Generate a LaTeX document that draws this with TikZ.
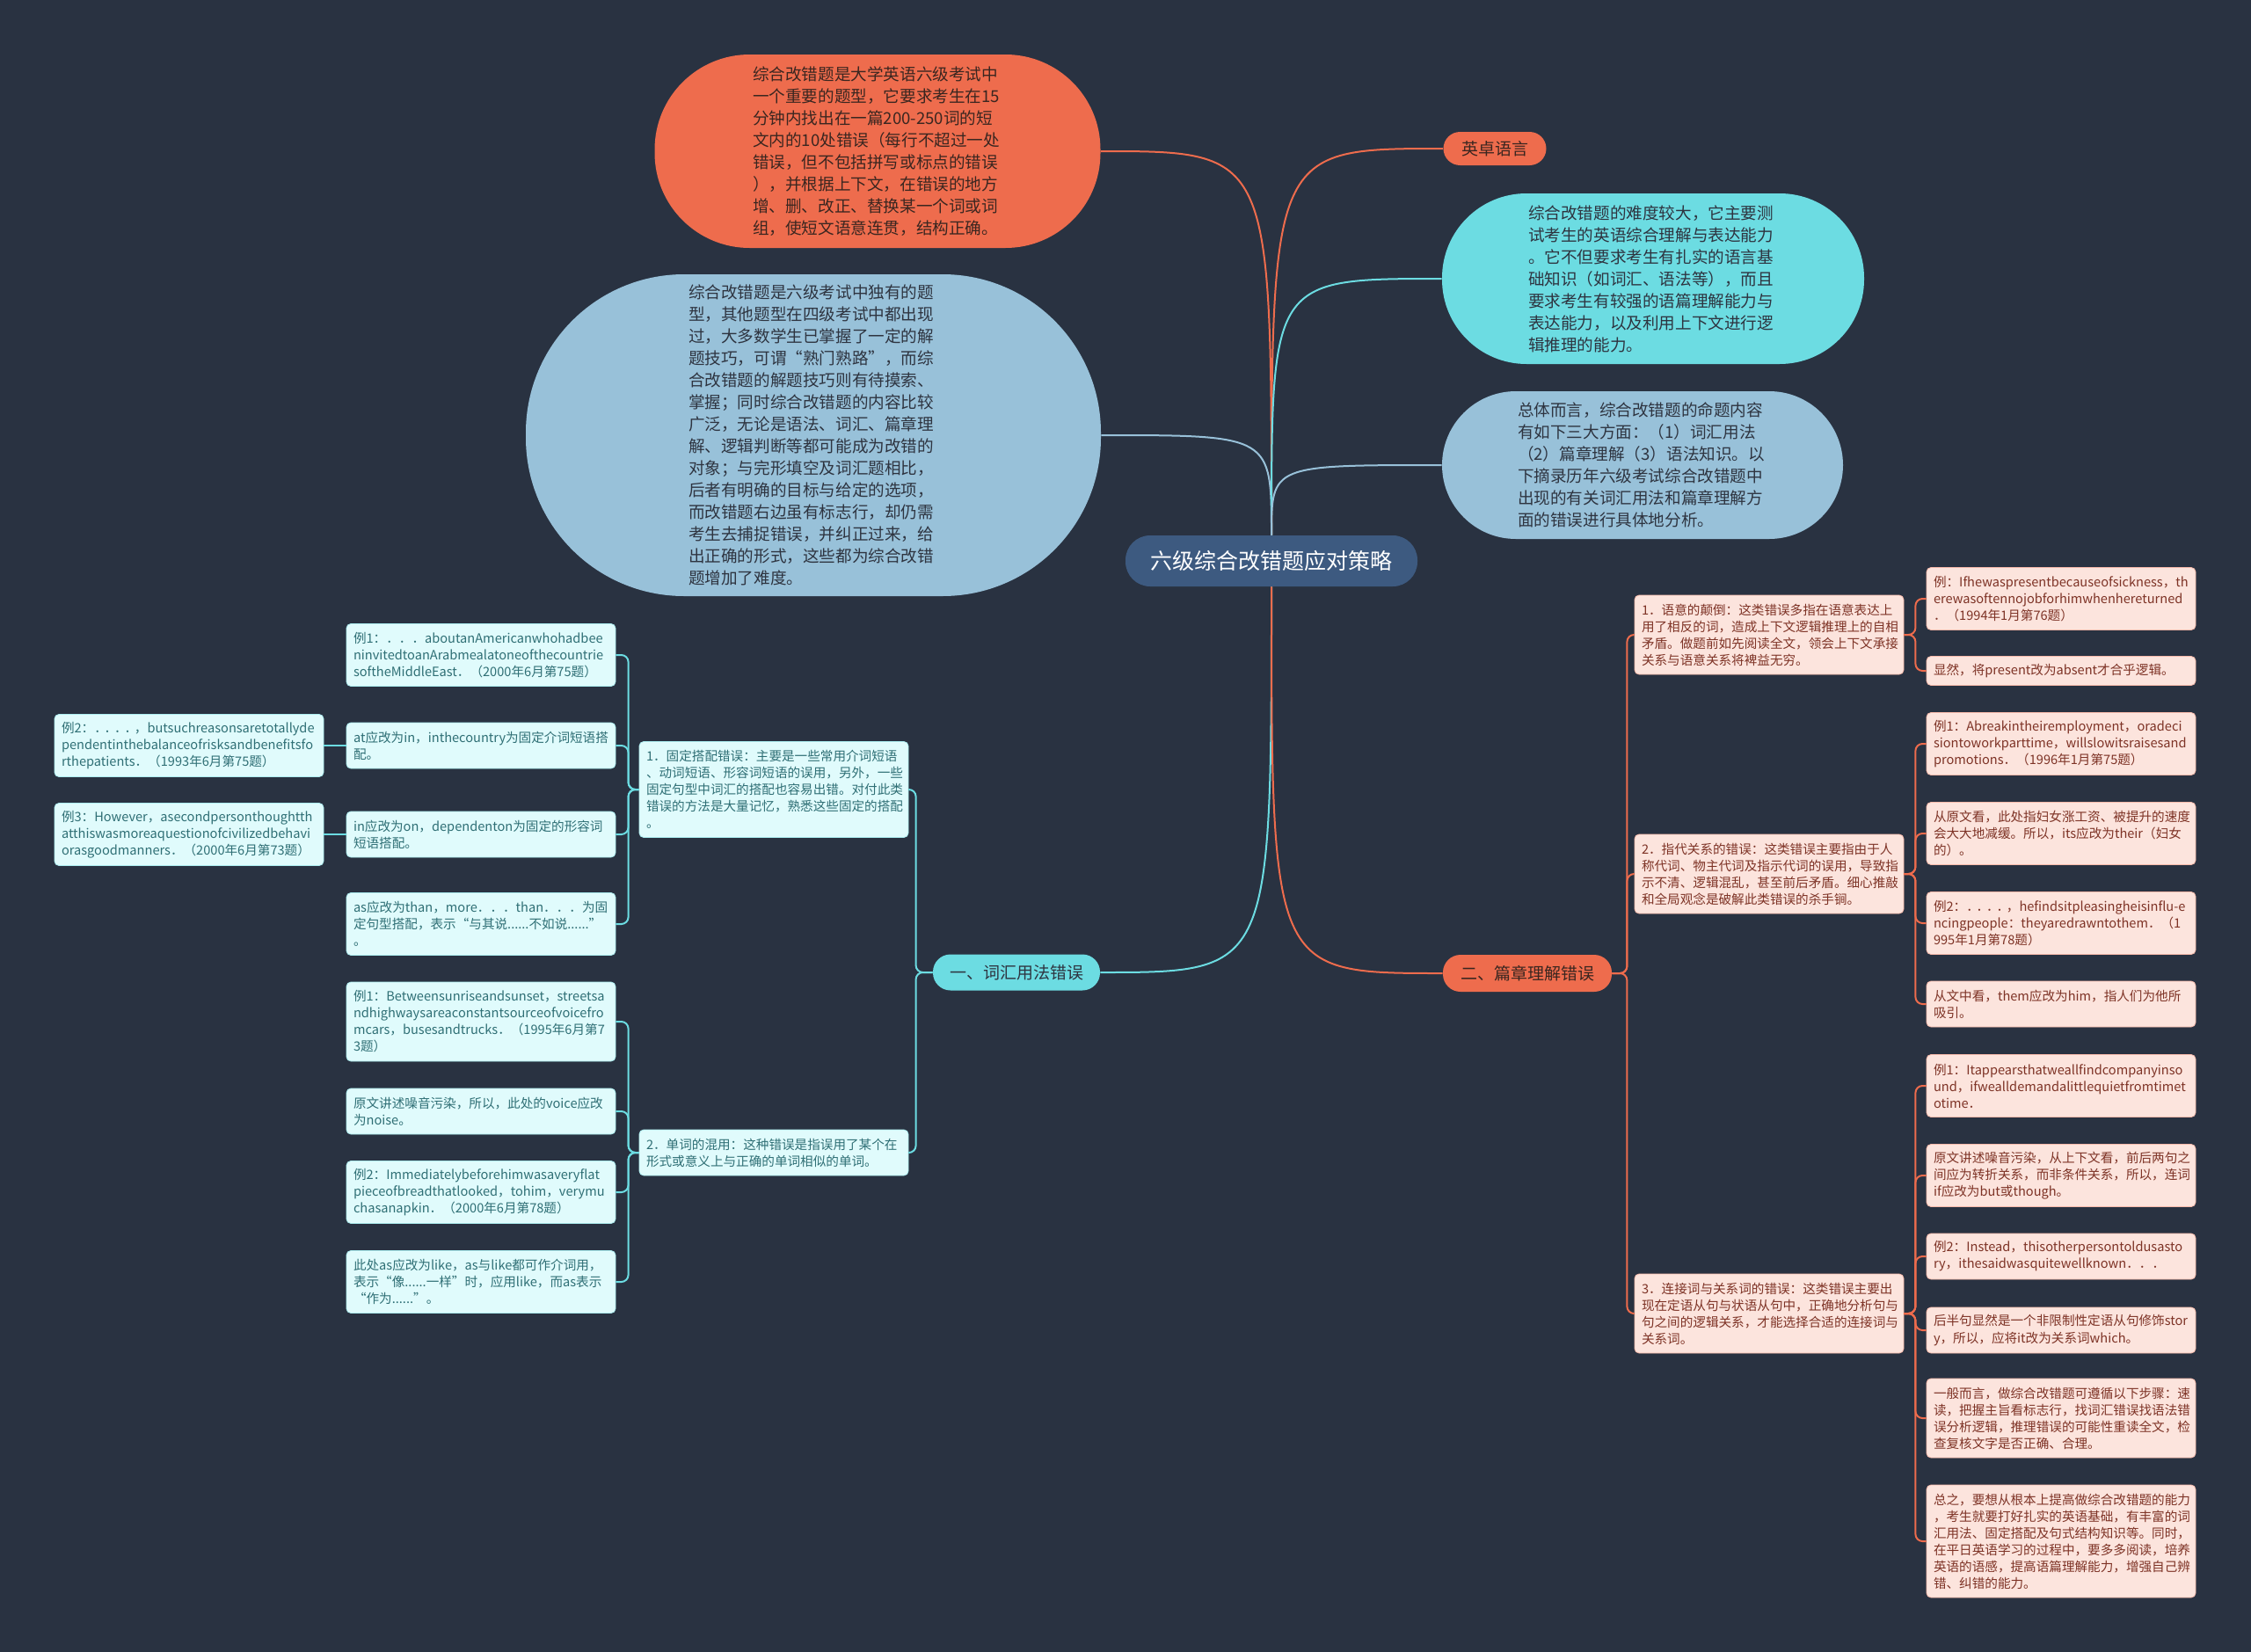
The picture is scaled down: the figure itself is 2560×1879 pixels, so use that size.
\documentclass[tikz,border=0pt]{standalone}
\usepackage{fontspec}
\setmainfont{Noto Sans CJK SC}
\usepackage{tikz}
\usetikzlibrary{calc}
\usepackage{xcolor}
\hyphenpenalty=10000
\exhyphenpenalty=10000
\newcommand{\tightdot}{．\kern-1.6pt}

\definecolor{bg}{HTML}{293241}
\definecolor{navy}{HTML}{3D5A80}
\definecolor{coral}{HTML}{EE6C4D}
\definecolor{aqua}{HTML}{6CDCE2}
\definecolor{sky}{HTML}{98C1D9}
\definecolor{ice}{HTML}{E0FBFC}
\definecolor{blush}{HTML}{FCE4DD}
\definecolor{tealtxt}{HTML}{2F6F75}
\definecolor{rusttxt}{HTML}{7E3326}
\definecolor{inktxt}{HTML}{2E3440}
\definecolor{browntxt}{HTML}{3A2620}

\tikzset{
  bubble/.style={align=left, inner sep=0pt, text width=142pt, font=\fontsize{9.3}{12.5}\selectfont},
  tag/.style={inner sep=0pt, font=\fontsize{9.5}{12}\selectfont},
  leaf/.style={align=left, text width=145pt, inner xsep=4pt, inner ysep=0pt, rounded corners=2.5pt,
    line width=0.4pt, font=\fontsize{7.3}{9.5}\selectfont, minimum height=9.5pt*#1+7pt},
  leafL/.style={leaf=#1, fill=ice, draw=aqua!45!ice, text=tealtxt},
  leafR/.style={leaf=#1, fill=blush, draw=coral!35!blush, text=rusttxt},
  linkL/.style={aqua, line width=1pt, rounded corners=4pt},
  linkR/.style={coral, line width=1pt, rounded corners=4pt},
  trunk/.style={line width=1pt},
}

\begin{document}
\begin{tikzpicture}[x=0.5pt, y=-0.5pt]
    \useasboundingbox (0,0) rectangle (2560,1879);
    \fill[bg] (0,0) rectangle (2560,1879);

    \node[fill=navy, text=white, rounded corners=14pt, minimum width=166pt, minimum height=29pt,
      inner sep=0pt, font=\fontsize{12.5}{15}\selectfont] (root) at (1446,638) {六级综合改错题应对策略};

    % upper bubbles
    \node[bubble, fill=coral, text=browntxt, rounded corners=54pt, minimum width=253.5pt, minimum height=110pt] (intro) at (998,172)
      {综合改错题是大学英语六级考试中\\一个重要的题型，它要求考生在15\\分钟内找出在一篇200-250词的短\\文内的10处错误（每行不超过一处\\错误，但不包括拼写或标点的错误\\），并根据上下文，在错误的地方\\增、删、改正、替换某一个词或词\\组，使短文语意连贯，结构正确。};
    \node[bubble, fill=sky, text=inktxt, rounded corners=90pt, minimum width=327pt, minimum height=183pt] (unique) at (925,495)
      {综合改错题是六级考试中独有的题\\型，其他题型在四级考试中都出现\\过，大多数学生已掌握了一定的解\\题技巧，可谓“熟门熟路”，而综\\合改错题的解题技巧则有待摸索、\\掌握；同时综合改错题的内容比较\\广泛，无论是语法、词汇、篇章理\\解、逻辑判断等都可能成为改错的\\对象；与完形填空及词汇题相比，\\后者有明确的目标与给定的选项，\\而改错题右边虽有标志行，却仍需\\考生去捕捉错误，并纠正过来，给\\出正确的形式，这些都为综合改错\\题增加了难度。};
    \node[tag, fill=coral, text=browntxt, rounded corners=9.5pt, minimum width=58.5pt, minimum height=19pt] (brand) at (1700,169) {英卓语言};
    \node[bubble, fill=aqua, text=inktxt, rounded corners=48pt, minimum width=240pt, minimum height=97pt] (hard) at (1880,317)
      {综合改错题的难度较大，它主要测\\试考生的英语综合理解与表达能力\\。它不但要求考生有扎实的语言基\\础知识（如词汇、语法等），而且\\要求考生有较强的语篇理解能力与\\表达能力，以及利用上下文进行逻\\辑推理的能力。};
    \node[bubble, fill=sky, text=inktxt, rounded corners=42pt, minimum width=228pt, minimum height=84pt] (scope) at (1868,529)
      {总体而言，综合改错题的命题内容\\有如下三大方面：（1）词汇用法\\（2）篇章理解（3）语法知识。以\\下摘录历年六级考试综合改错题中\\出现的有关词汇用法和篇章理解方\\面的错误进行具体地分析。};

    % branches
    \node[tag, fill=aqua, text=inktxt, rounded corners=10pt, minimum width=95pt, minimum height=20.5pt] (vocab) at (1156,1106) {一、词汇用法错误};
    \node[tag, fill=coral, text=browntxt, rounded corners=10pt, minimum width=96pt, minimum height=21pt] (discourse) at (1737,1107) {二、篇章理解错误};

    \draw[trunk, coral] (root.north) .. controls (root.north |- intro.east) .. (intro.east);
    \draw[trunk, sky] (root.north) .. controls (root.north |- unique.east) .. (unique.east);
    \draw[trunk, coral] (root.north) .. controls (root.north |- brand.west) .. (brand.west);
    \draw[trunk, aqua] (root.north) .. controls (root.north |- hard.west) .. (hard.west);
    \draw[trunk, sky] (root.north) .. controls (root.north |- scope.west) .. (scope.west);
    \draw[trunk, aqua] (root.south) .. controls (root.south |- vocab.east) .. (vocab.east);
    \draw[trunk, coral] (root.south) .. controls (root.south |- discourse.west) .. (discourse.west);

    % left side
    \node[leafL=5] (fix) at (880,898)
      {1．固定搭配错误：主要是一些常用介词短语\\、动词短语、形容词短语的误用，另外，一些\\固定句型中词汇的搭配也容易出错。对付此类\\错误的方法是大量记忆，熟悉这些固定的搭配\\。};
    \node[leafL=2] (mix) at (880,1311)
      {2．单词的混用：这种错误是指误用了某个在\\形式或意义上与正确的单词相似的单词。};

    \node[leafL=3] (fix1) at (547,745)
      {例1：．．．aboutanAmericanwhohadbee\\ninvitedtoanArabmealatoneofthecountrie\\softheMiddleEast．（2000年6月第75题）};
    \node[leafL=2] (fix2) at (547,848)
      {at应改为in，inthecountry为固定介词短语搭\\配。};
    \node[leafL=2] (fix3) at (547,949)
      {in应改为on，dependenton为固定的形容词\\短语搭配。};
    \node[leafL=3] (fix4) at (547,1051)
      {as应改为than，more．．．than．．．为固\\定句型搭配，表示“与其说......不如说......”\\。};
    \node[leafL=3] (fixa) at (215,848)
      {例2：\tightdot\tightdot\tightdot\tightdot，butsuchreasonsaretotallyde\\pendentinthebalanceofrisksandbenefitsfo\\rthepatients．（1993年6月第75题）};
    \node[leafL=3] (fixb) at (215,949)
      {例3：However，asecondpersonthoughtth\\atthiswasmoreaquestionofcivilizedbehavi\\orasgoodmanners．（2000年6月第73题）};

    \node[leafL=4] (mix1) at (547,1162)
      {例1：Betweensunriseandsunset，streetsa\\ndhighwaysareaconstantsourceofvoicefro\\mcars，busesandtrucks．（1995年6月第7\\3题）};
    \node[leafL=2] (mix2) at (547,1264)
      {原文讲述噪音污染，所以，此处的voice应改\\为noise。};
    \node[leafL=3] (mix3) at (547,1356)
      {例2：Immediatelybeforehimwasaveryflat\\pieceofbreadthatlooked，tohim，verymu\\chasanapkin．（2000年6月第78题）};
    \node[leafL=3] (mix4) at (547,1458)
      {此处as应改为like，as与like都可作介词用，\\表示“像......一样”时，应用like，而as表示\\“作为......”。};

    \foreach \n in {fix,mix}
      \draw[linkL] (vocab.west) -- ++(-19,0) |- (\n.east);
    \foreach \n in {fix1,fix2,fix3,fix4}
      \draw[linkL] (fix.west) -- ++(-12,0) |- (\n.east);
    \foreach \n in {mix1,mix2,mix3,mix4}
      \draw[linkL] (mix.west) -- ++(-12,0) |- (\n.east);
    \draw[linkL] (fix2.west) -- (fixa.east);
    \draw[linkL] (fix3.west) -- (fixb.east);

    % right side
    \node[leafR=4] (flip) at (2012,722)
      {1．语意的颠倒：这类错误多指在语意表达上\\用了相反的词，造成上下文逻辑推理上的自相\\矛盾。做题前如先阅读全文，领会上下文承接\\关系与语意关系将裨益无穷。};
    \node[leafR=4] (refer) at (2012,994)
      {2．指代关系的错误：这类错误主要指由于人\\称代词、物主代词及指示代词的误用，导致指\\示不清、逻辑混乱，甚至前后矛盾。细心推敲\\和全局观念是破解此类错误的杀手锏。};
    \node[leafR=4] (joint) at (2012,1494)
      {3．连接词与关系词的错误：这类错误主要出\\现在定语从句与状语从句中，正确地分析句与\\句之间的逻辑关系，才能选择合适的连接词与\\关系词。};

    \node[leafR=3] (flip1) at (2344,681)
      {例：Ifhewaspresentbecauseofsickness，th\\erewasoftennojobforhimwhenhereturned\\．（1994年1月第76题）};
    \node[leafR=1] (flip2) at (2344,763)
      {显然，将present改为absent才合乎逻辑。};

    \node[leafR=3] (refer1) at (2344,846)
      {例1：Abreakintheiremployment，oradeci\\siontoworkparttime，willslowitsraisesand\\promotions．（1996年1月第75题）};
    \node[leafR=3] (refer2) at (2344,948)
      {从原文看，此处指妇女涨工资、被提升的速度\\会大大地减缓。所以，its应改为their（妇女\\的）。};
    \node[leafR=3] (refer3) at (2344,1050)
      {例2：\tightdot\tightdot\tightdot\tightdot，hefindsitpleasingheisinflu-e\\ncingpeople：theyaredrawntothem．（1\\995年1月第78题）};
    \node[leafR=2] (refer4) at (2344,1142)
      {从文中看，them应改为him，指人们为他所\\吸引。};

    \node[leafR=3] (joint1) at (2344,1235)
      {例1：Itappearsthatweallfindcompanyinso\\und，ifwealldemandalittlequietfromtimet\\otime．};
    \node[leafR=3] (joint2) at (2344,1337)
      {原文讲述噪音污染，从上下文看，前后两句之\\间应为转折关系，而非条件关系，所以，连词\\if应改为but或though。};
    \node[leafR=2] (joint3) at (2344,1429)
      {例2：Instead，thisotherpersontoldusasto\\ry，ithesaidwasquitewellknown．．．};
    \node[leafR=2] (joint4) at (2344,1513)
      {后半句显然是一个非限制性定语从句修饰stor\\y，所以，应将it改为关系词which。};
    \node[leafR=4] (joint5) at (2344,1613)
      {一般而言，做综合改错题可遵循以下步骤：速\\读，把握主旨看标志行，找词汇错误找语法错\\误分析逻辑，推理错误的可能性重读全文，检\\查复核文字是否正确、合理。};
    \node[leafR=6] (joint6) at (2344,1753)
      {总之，要想从根本上提高做综合改错题的能力\\，考生就要打好扎实的英语基础，有丰富的词\\汇用法、固定搭配及句式结构知识等。同时，\\在平日英语学习的过程中，要多多阅读，培养\\英语的语感，提高语篇理解能力，增强自己辨\\错、纠错的能力。};

    \foreach \n in {flip,refer,joint}
      \draw[linkR] (discourse.east) -- ++(17,0) |- (\n.west);
    \foreach \n in {flip1,flip2}
      \draw[linkR] (flip.east) -- ++(13,0) |- (\n.west);
    \foreach \n in {refer1,refer2,refer3,refer4}
      \draw[linkR] (refer.east) -- ++(13,0) |- (\n.west);
    \foreach \n in {joint1,joint2,joint3,joint4,joint5,joint6}
      \draw[linkR] (joint.east) -- ++(13,0) |- (\n.west);
\end{tikzpicture}
\end{document}
